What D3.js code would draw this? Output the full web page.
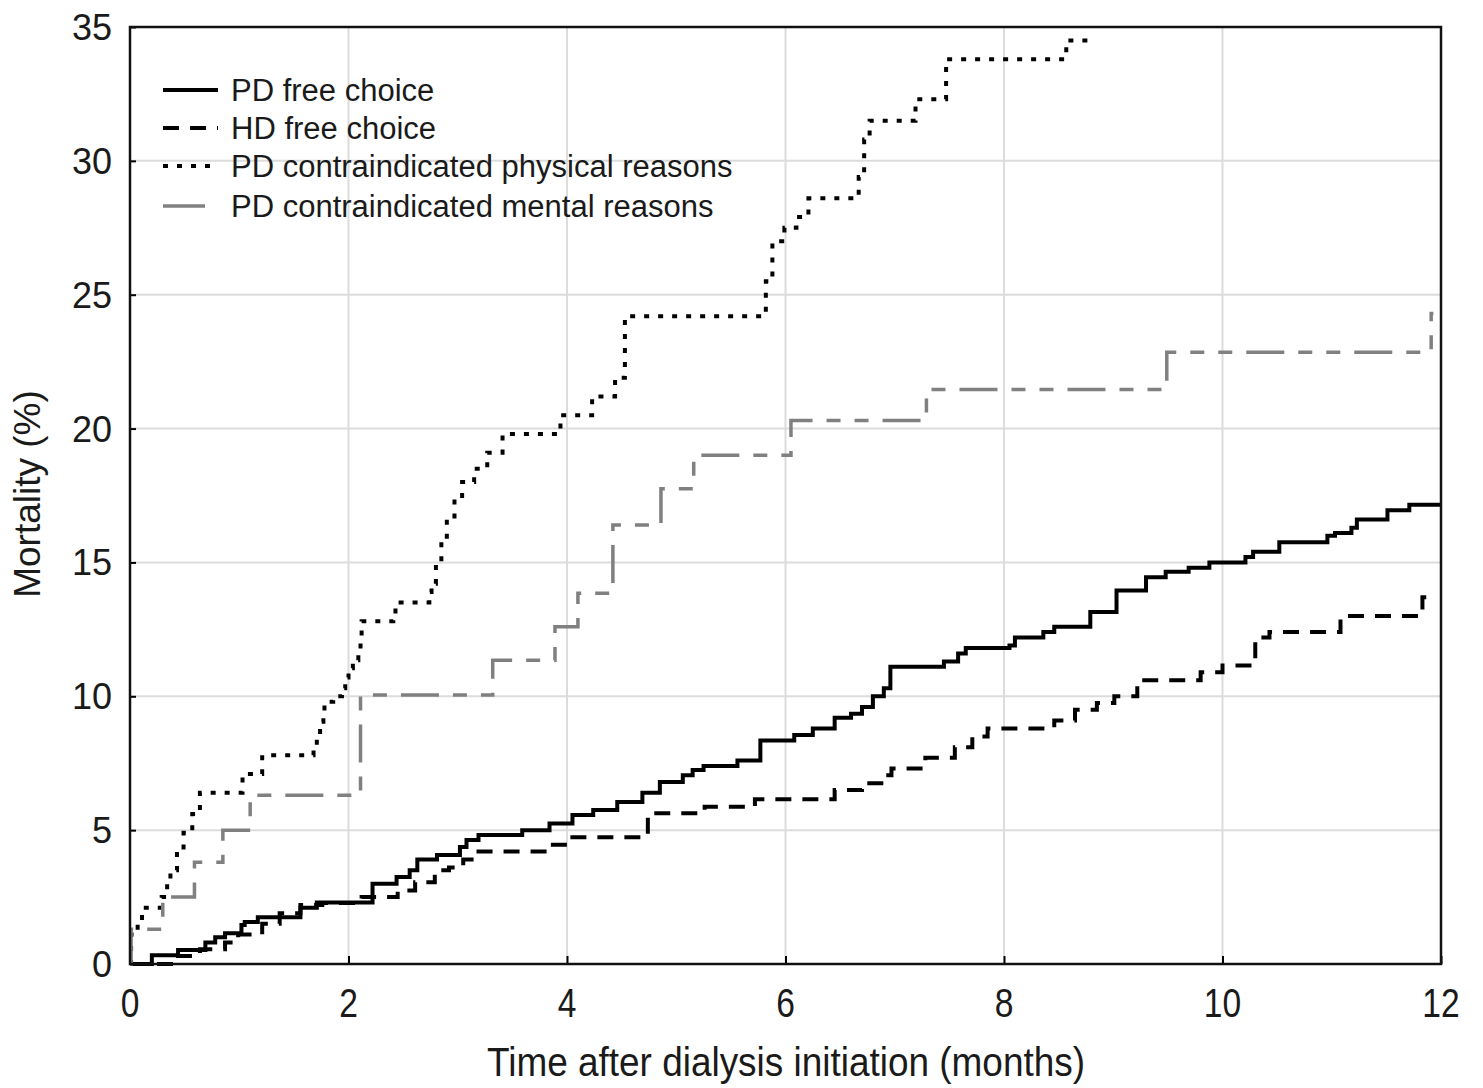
<!DOCTYPE html>
<html>
<head>
<meta charset="utf-8">
<script src="https://cdn.jsdelivr.net/npm/d3@7"></script>
<style>
  html, body { margin: 0; padding: 0; background: #fff; }
  svg { display: block; font-family: "Liberation Sans", Arial, sans-serif; }
</style>
</head>
<body>
<div id="chart"></div>
<script>
// cumulative mortality (%), [month, value] step points
var pdFreeChoice = [
  [0, 0], [0.20, 0.33], [0.44, 0.52], [0.69, 0.8], [0.78, 1.0], [0.87, 1.15],
  [1.02, 1.46], [1.05, 1.57], [1.17, 1.75], [1.56, 2.1], [1.71, 2.3], [2.22, 3.0],
  [2.44, 3.25], [2.56, 3.5], [2.63, 3.9], [2.81, 4.07], [3.02, 4.37], [3.08, 4.63],
  [3.19, 4.82], [3.59, 5.0], [3.84, 5.25], [4.05, 5.57], [4.24, 5.75], [4.46, 6.05],
  [4.69, 6.4], [4.85, 6.8], [5.06, 7.05], [5.15, 7.25], [5.25, 7.4], [5.56, 7.6],
  [5.77, 8.35], [6.08, 8.55], [6.25, 8.8], [6.45, 9.2], [6.60, 9.35], [6.70, 9.6],
  [6.80, 10.0], [6.90, 10.3], [6.96, 11.1], [7.45, 11.3], [7.58, 11.6], [7.65, 11.8],
  [8.05, 11.9], [8.10, 12.2], [8.36, 12.4], [8.46, 12.6], [8.79, 13.15], [9.03, 13.95],
  [9.30, 14.45], [9.48, 14.65], [9.69, 14.8], [9.88, 15.0], [10.21, 15.2], [10.28, 15.4],
  [10.52, 15.75], [10.96, 16.0], [11.03, 16.1], [11.18, 16.3], [11.23, 16.6],
  [11.51, 16.95], [11.71, 17.15], [12, 17.15]
];

var hdFreeChoice = [
  [0, 0], [0.41, 0.3], [0.64, 0.55], [0.87, 0.8], [0.99, 1.1], [1.21, 1.5],
  [1.37, 1.9], [1.56, 2.2], [1.76, 2.28], [2.12, 2.5], [2.45, 2.75], [2.61, 3.05],
  [2.79, 3.5], [2.92, 3.6], [3.05, 3.9], [3.19, 4.2], [3.84, 4.45], [4.03, 4.73],
  [4.74, 5.63], [5.26, 5.87], [5.72, 6.15], [6.45, 6.5], [6.70, 6.75], [6.90, 7.05],
  [6.97, 7.3], [7.28, 7.7], [7.55, 8.1], [7.71, 8.5], [7.85, 8.8], [8.46, 9.1],
  [8.65, 9.5], [8.85, 9.75], [9.01, 10.0], [9.22, 10.6], [9.80, 10.9], [10.0, 11.15],
  [10.30, 12.2], [10.43, 12.4], [11.08, 13.0], [11.83, 13.7], [11.9, 13.7]
];

var pdPhysical = [
  [0, 0], [0.01, 1.1], [0.07, 1.6], [0.11, 2.1], [0.29, 2.5], [0.34, 3.0],
  [0.37, 3.5], [0.43, 4.2], [0.49, 4.9], [0.57, 5.6], [0.64, 6.4], [1.03, 7.1],
  [1.21, 7.8], [1.68, 8.1], [1.71, 8.55], [1.74, 9.05], [1.77, 9.35], [1.78, 9.8],
  [1.86, 10.0], [1.94, 10.3], [1.97, 10.7], [2.00, 11.05], [2.04, 11.35], [2.09, 11.65],
  [2.11, 12.1], [2.12, 12.8], [2.41, 13.05], [2.43, 13.5], [2.74, 13.9], [2.76, 14.2],
  [2.80, 15.0], [2.85, 15.8], [2.90, 16.6], [2.97, 17.4], [3.04, 18.0], [3.15, 18.5],
  [3.27, 19.1], [3.41, 19.8], [3.94, 20.5], [4.23, 21.2], [4.44, 21.9], [4.53, 24.2],
  [5.82, 25.5], [5.88, 27.0], [5.99, 27.5], [6.10, 27.9], [6.21, 28.6], [6.67, 29.4],
  [6.72, 30.8], [6.77, 31.5], [7.19, 32.3], [7.47, 33.8], [8.57, 34.5], [8.77, 34.5]
];

var pdMental = [
  [0, 0], [0.01, 1.3], [0.30, 2.5], [0.59, 3.8], [0.85, 5.0], [1.10, 6.3],
  [2.11, 10.05], [3.32, 11.35], [3.89, 12.6], [4.10, 13.85], [4.42, 16.4],
  [4.86, 17.75], [5.16, 19.0], [6.05, 20.3], [7.29, 21.46], [9.49, 22.85],
  [11.91, 24.3], [11.93, 24.3]
];

var xTicks = [0, 2, 4, 6, 8, 10, 12];
var yTicks = [0, 5, 10, 15, 20, 25, 30, 35];

var series = [
  { name: "PD free choice", data: pdFreeChoice, color: "#000", width: 4, dash: null },
  { name: "HD free choice", data: hdFreeChoice, color: "#000", width: 4, dash: "16,11" },
  { name: "PD contraindicated physical reasons", data: pdPhysical, color: "#000", width: 4, dash: "5,9" },
  { name: "PD contraindicated mental reasons", data: pdMental, color: "#808080", width: 3.5, dash: "38,14,14,14,14,14" }
];

var width = 1483, height = 1088;
var margin = { top: 27, right: 42, bottom: 124, left: 130 };
var plotW = width - margin.left - margin.right;
var plotH = height - margin.top - margin.bottom;

var svg = d3.select("#chart").append("svg")
    .attr("width", width)
    .attr("height", height);

var plot = svg.append("g")
    .attr("transform", "translate(" + margin.left + "," + margin.top + ")");

var x = d3.scaleLinear().domain([0, 12]).range([0, plotW]);
var y = d3.scaleLinear().domain([0, 35]).range([plotH, 0]);

// grid lines
plot.append("g").selectAll("line")
    .data(xTicks.slice(1, -1))
    .enter().append("line")
    .attr("x1", d => x(d)).attr("x2", d => x(d))
    .attr("y1", 0).attr("y2", plotH)
    .attr("stroke", "#dcdcdc").attr("stroke-width", 2);

plot.append("g").selectAll("line")
    .data(yTicks.slice(1, -1))
    .enter().append("line")
    .attr("x1", 0).attr("x2", plotW)
    .attr("y1", d => y(d)).attr("y2", d => y(d))
    .attr("stroke", "#dcdcdc").attr("stroke-width", 2);

// axes: inward ticks, labels drawn separately
var xAxis = plot.append("g")
    .attr("transform", "translate(0," + plotH + ")")
    .call(d3.axisTop(x).tickValues(xTicks).tickSize(8).tickFormat(""));
var yAxis = plot.append("g")
    .call(d3.axisRight(y).tickValues(yTicks).tickSize(6).tickFormat(""));
[xAxis, yAxis].forEach(function(a) {
  a.select(".domain").remove();
  a.selectAll("line").attr("stroke", "#000").attr("stroke-width", 2);
});

// step curves
var line = d3.line()
    .x(d => x(d[0]))
    .y(d => y(d[1]))
    .curve(d3.curveStepAfter);

plot.append("g").selectAll("path")
    .data(series)
    .enter().append("path")
    .attr("d", d => line(d.data))
    .attr("fill", "none")
    .attr("stroke", d => d.color)
    .attr("stroke-width", d => d.width)
    .attr("stroke-dasharray", d => d.dash);

// frame
plot.append("rect")
    .attr("x", 0).attr("y", 0)
    .attr("width", plotW).attr("height", plotH)
    .attr("fill", "none")
    .attr("stroke", "#111").attr("stroke-width", 2.5);

// tick labels
svg.append("g").selectAll("text")
    .data(yTicks)
    .enter().append("text")
    .attr("x", 112)
    .attr("y", d => margin.top + y(d) + 13)
    .attr("text-anchor", "end")
    .attr("font-size", 36)
    .attr("fill", "#1a1a1a")
    .text(d => d);

svg.append("g").selectAll("text")
    .data(xTicks)
    .enter().append("text")
    .attr("transform", d => "translate(" + (margin.left + x(d)) + ",1017) scale(0.82,1)")
    .attr("text-anchor", "middle")
    .attr("font-size", 41)
    .attr("fill", "#1a1a1a")
    .text(d => d);

// axis titles
svg.append("text")
    .attr("x", 487).attr("y", 1076)
    .attr("font-size", 40)
    .attr("textLength", 598)
    .attr("lengthAdjust", "spacingAndGlyphs")
    .attr("fill", "#1a1a1a")
    .text("Time after dialysis initiation (months)");

svg.append("text")
    .attr("transform", "translate(40,494) rotate(-90)")
    .attr("text-anchor", "middle")
    .attr("font-size", 37)
    .attr("fill", "#1a1a1a")
    .text("Mortality (%)");

// legend
var legend = svg.append("g").selectAll("g")
    .data(series)
    .enter().append("g")
    .attr("transform", (d, i) => "translate(163," + [90, 128, 166, 206][i] + ")");

legend.append("line")
    .attr("x1", 0).attr("x2", (d, i) => i === 3 ? 42 : 55)
    .attr("y1", 0).attr("y2", 0)
    .attr("stroke", d => d.color)
    .attr("stroke-width", d => d.width)
    .attr("stroke-dasharray", (d, i) => i === 3 ? null : d.dash);

legend.append("text")
    .attr("x", 68).attr("y", 11)
    .attr("font-size", 31)
    .attr("fill", "#1a1a1a")
    .text(d => d.name);
</script>
</body>
</html>
